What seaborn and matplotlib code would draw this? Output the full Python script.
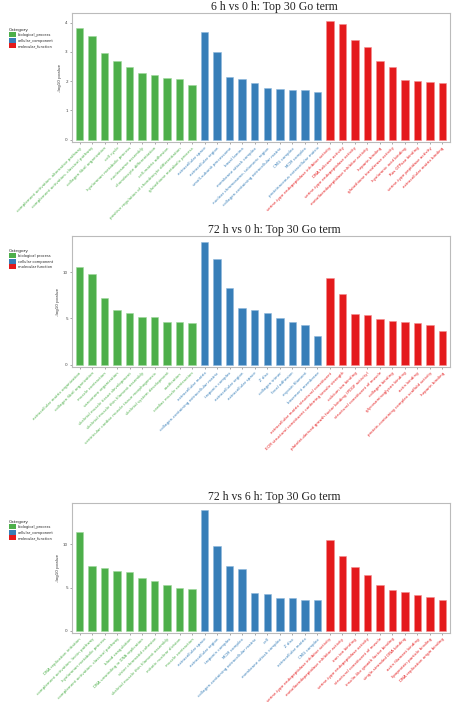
import pandas as pd
import matplotlib
matplotlib.use("Agg")
import matplotlib.pyplot as plt
import seaborn as sns
from matplotlib.patches import Patch

# ---- data ----
terms_6h_0h = [
    "complement activation, alternative pathway", "complement activation, classical pathway",
    "collagen fibril organization", "cell cycle", "hyaluronan metabolic process",
    "nucleosome assembly", "chondrocyte differentiation", "cell-matrix adhesion",
    "positive regulation of chondrocyte differentiation", "glutathione metabolic process",
    "extracellular space", "extracellular region", "small-subunit processome", "basal lamina",
    "membrane attack complex", "nuclear chromosome, telomeric region",
    "collagen-containing extracellular matrix", "CMG complex", "MCM complex",
    "proteinaceous extracellular matrix",
    "serine-type endopeptidase inhibitor activity", "DNA helicase activity",
    "serine-type endopeptidase activity", "metalloendopeptidase inhibitor activity",
    "heparin binding", "glutathione transferase activity", "hyaluronic acid binding",
    "Ras GTPase binding", "serine-type peptidase activity", "extracellular matrix binding",
]
pval_6h_0h = [3.82, 3.56, 2.97, 2.68, 2.50, 2.27, 2.20, 2.11, 2.09, 1.86,
              3.67, 3.00, 2.15, 2.06, 1.93, 1.76, 1.73, 1.70, 1.69, 1.63,
              4.05, 3.95, 3.42, 3.16, 2.70, 2.49, 2.05, 1.99, 1.98, 1.93]

terms_72h_0h = [
    "extracellular matrix organization", "collagen fibril organization", "muscle contraction",
    "sarcomere organization", "skeletal muscle tissue development",
    "skeletal muscle thin filament assembly", "ventricular cardiac muscle tissue morphogenesis",
    "skeletal system development", "ossification", "cardiac muscle contraction",
    "extracellular matrix", "collagen-containing extracellular matrix", "troponin complex",
    "extracellular region", "extracellular space", "Z disc", "collagen trimer",
    "focal adhesion", "myosin filament", "basement membrane",
    "extracellular matrix structural constituent",
    "ECM structural constituent conferring tensile strength",
    "calcium ion binding", "platelet-derived growth factor binding (PDGF activity)",
    "structural constituent of muscle", "collagen binding", "glycosaminoglycan binding",
    "actin binding", "protein-containing complex scaffold activity", "heparin binding",
]
pval_72h_0h = [10.59, 9.82, 7.17, 5.96, 5.62, 5.18, 5.11, 4.63, 4.56, 4.49,
               13.20, 11.40, 8.30, 6.10, 5.96, 5.59, 5.00, 4.60, 4.30, 3.10,
               9.38, 7.68, 5.44, 5.40, 4.89, 4.71, 4.60, 4.52, 4.34, 3.64]

terms_72h_6h = [
    "DNA replication initiation", "complement activation, lectin pathway",
    "hyaluronan metabolic process", "complement activation, classical pathway",
    "blood coagulation", "DNA unwinding in DNA replication", "sister chromatid cohesion",
    "skeletal muscle thin filament assembly", "mitotic nuclear division", "muscle contraction",
    "extracellular space", "extracellular region", "troponin complex", "MCM complex",
    "collagen-containing extracellular matrix", "cell", "membrane attack complex",
    "Z disc", "extracellular matrix", "CMG complex",
    "serine-type endopeptidase inhibitor activity", "metalloendopeptidase inhibitor activity",
    "iron ion binding", "serine-type endopeptidase activity", "structural constituent of muscle",
    "insulin-like growth factor binding", "single-stranded DNA binding",
    "actin filament binding", "lipoprotein particle binding",
    "DNA replication origin binding",
]
pval_72h_6h = [11.46, 7.48, 7.28, 6.93, 6.85, 6.14, 5.75, 5.28, 4.96, 4.88,
               14.02, 9.84, 7.56, 7.20, 4.37, 4.21, 3.78, 3.78, 3.58, 3.58,
               10.51, 8.66, 7.40, 6.50, 5.35, 4.69, 4.53, 4.13, 3.94, 3.58]

categories = ["biological_process"] * 10 + ["cellular_component"] * 10 + ["molecular_function"] * 10
legend_labels_1 = ["biological_process", "cellular_component", "molecular_function"]
legend_labels_2 = ["biological process", "cellular component", "molecular function"]
legend_labels_3 = ["biological_process", "cellular_component", "molecular_function"]

titles = ["6 h vs 0 h: Top 30 Go term", "72 h vs 0 h: Top 30 Go term", "72 h vs 6 h: Top 30 Go term"]
yticks = [[0, 1, 2, 3, 4], [0, 5, 10], [0, 5, 10]]
ylims = [(-0.08, 4.33), (-0.25, 13.9), (-0.25, 14.8)]

colors = {"biological_process": "#4DAF4A",
          "cellular_component": "#377EB8",
          "molecular_function": "#E41A1C"}
edges = {"biological_process": "#9fd89c",
         "cellular_component": "#8fb8dc",
         "molecular_function": "#f38c8d"}

sns.set_theme(style="white")
fig = plt.figure(figsize=(4.57, 7.02), dpi=100)

W, H = 457, 702
boxes = [(13, 142), (236, 367), (503, 633)]     # top, bottom in px
title_y = [7, 230, 497]
legend_y = [28, 249, 520]

panels = [(terms_6h_0h, pval_6h_0h, legend_labels_1),
          (terms_72h_0h, pval_72h_0h, legend_labels_2),
          (terms_72h_6h, pval_72h_6h, legend_labels_3)]

for i, (terms, vals, leg_labels) in enumerate(panels):
    top, bot = boxes[i]
    ax = fig.add_axes([72 / W, 1 - bot / H, (450 - 72) / W, (bot - top) / H])
    df = pd.DataFrame({"term": terms, "value": vals, "category": categories})
    sns.barplot(data=df, x="term", y="value", hue="category", order=terms,
                palette=colors, dodge=False, width=0.6, saturation=1,
                legend=False, ax=ax)
    for bar, cat in zip(ax.patches, df["category"]):
        bar.set_edgecolor(edges[cat])
        bar.set_linewidth(0.4)

    ax.set_xlim(-0.6, 29.6)
    ax.set_ylim(*ylims[i])
    ax.set_yticks(yticks[i])
    ax.set_yticklabels([str(t) for t in yticks[i]], fontsize=3, color="#444444")
    ax.set_xticks(range(len(terms)))
    ax.set_xticklabels(terms, rotation=45, ha="right", rotation_mode="anchor", fontsize=2.9)
    for lab, cat in zip(ax.get_xticklabels(), df["category"]):
        lab.set_color(colors[cat])
    ax.tick_params(axis="both", length=1.5, width=0.4, color="#666666", pad=1.5, bottom=True, left=True)
    ax.set_xlabel("")
    ax.set_ylabel("-log10 pvalue", fontsize=3, color="#333333", labelpad=2)
    for s in ax.spines.values():
        s.set_color("#bbbbbb")
        s.set_linewidth(0.8)

    fig.text(274 / W, 1 - title_y[i] / H, titles[i], ha="center", va="center",
             fontsize=8.5, family="Liberation Serif", color="#222222")

    handles = [Patch(facecolor=colors[c], edgecolor="none") for c in colors]
    leg = ax.legend(handles, leg_labels, title="Category", loc="upper left",
                    bbox_to_anchor=(9 / W, 1 - legend_y[i] / H), bbox_transform=fig.transFigure,
                    frameon=False, fontsize=2.6, title_fontsize=3.2,
                    handlelength=1.8, handleheight=1.8, handletextpad=0.6,
                    labelspacing=0.1, borderpad=0, borderaxespad=0)
    leg._legend_box.align = "left"

fig.savefig("out.png", dpi=100)
